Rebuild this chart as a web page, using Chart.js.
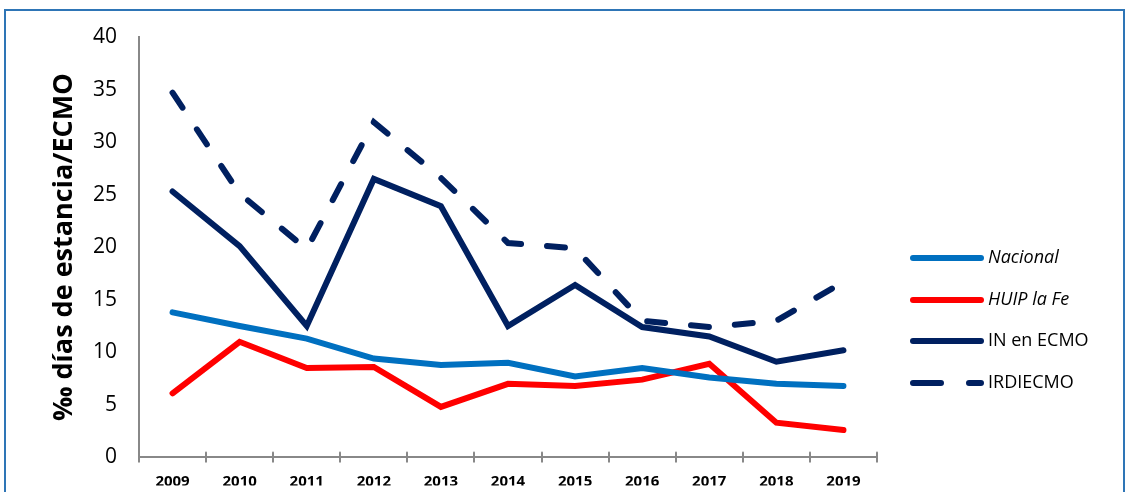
<!DOCTYPE html>
<html>
<head>
<meta charset="utf-8">
<script src="https://cdn.jsdelivr.net/npm/chart.js@4"></script>
<style>
  html, body { margin: 0; padding: 0; background: #fff; }
  #wrap { width: 1129px; height: 492px; position: relative; }
</style>
</head>
<body>
<div id="wrap"><canvas id="ecmoChart" width="1129" height="492"></canvas></div>
<script>
const years = ['2009', '2010', '2011', '2012', '2013', '2014', '2015', '2016', '2017', '2018', '2019'];
const nacional = [13.8, 12.5, 11.3, 9.4, 8.8, 9.0, 7.7, 8.5, 7.6, 7.0, 6.8];
const huipLaFe = [6.1, 11.0, 8.5, 8.6, 4.8, 7.0, 6.8, 7.4, 8.9, 3.3, 2.6];
const inEcmo = [25.3, 20.1, 12.5, 26.5, 23.9, 12.5, 16.4, 12.4, 11.5, 9.1, 10.2];
const irdiecmo = [34.7, 25.1, 19.8, 31.9, 26.6, 20.4, 19.9, 13.0, 12.4, 13.0, 16.7];

const FONT = '"Open Sans", "Noto Sans", sans-serif';

// legend drawn by hand on the right, plus the outer blue frame
const sideLegend = {
    id: 'sideLegend',
    afterDraw(chart) {
        const ctx = chart.ctx;
        ctx.save();
        ctx.strokeStyle = '#2E75B6';
        ctx.lineWidth = 2;
        ctx.strokeRect(5, 10, 1119, 490);

        const rows = [258, 300, 341, 383];
        chart.data.datasets.forEach((ds, i) => {
            const y = rows[i];
            ctx.beginPath();
            ctx.strokeStyle = ds.borderColor;
            ctx.lineWidth = 6;
            ctx.lineCap = 'round';
            ctx.setLineDash(ds.borderDash && ds.borderDash.length ? [28, 28] : []);
            ctx.moveTo(913, y);
            ctx.lineTo(981, y);
            ctx.stroke();
            ctx.setLineDash([]);
            ctx.fillStyle = '#000';
            ctx.font = (ds.italic ? 'italic ' : '') + '18px ' + FONT;
            ctx.textBaseline = 'middle';
            ctx.textAlign = 'left';
            ctx.fillText(ds.label, 988, y);
        });

        // small cross ticks above the x axis
        const xs = chart.scales.x;
        const bottom = chart.chartArea.bottom;
        ctx.strokeStyle = '#888';
        ctx.lineWidth = 2;
        for (let i = 1; i <= years.length; i++) {
            const x = Math.round(xs.left + (xs.width / years.length) * i);
            ctx.beginPath();
            ctx.moveTo(x, bottom - 5);
            ctx.lineTo(x, bottom);
            ctx.stroke();
        }
        ctx.restore();
    }
};

const line = (label, data, color, extra) => Object.assign({
    label: label,
    data: data,
    borderColor: color,
    backgroundColor: color,
    borderWidth: 6,
    pointRadius: 0,
    tension: 0,
    borderCapStyle: 'round',
    borderJoinStyle: 'miter',
    fill: false,
}, extra || {});

new Chart(document.getElementById('ecmoChart'), {
    type: 'line',
    data: {
        labels: years,
        datasets: [
            line('Nacional', nacional, '#0070C0', { italic: true }),
            line('HUIP la Fe', huipLaFe, '#FF0000', { italic: true }),
            line('IN en ECMO', inEcmo, '#002060'),
            line('IRDIECMO', irdiecmo, '#002060', { borderDash: [18, 26] }),
        ],
    },
    plugins: [sideLegend],
    options: {
        responsive: false,
        animation: false,
        layout: { padding: { top: 37, right: 252, left: 48, bottom: 0 } },
        plugins: {
            legend: { display: false },
            tooltip: { enabled: false },
        },
        scales: {
            x: {
                offset: true,
                grid: {
                    offset: true,
                    drawOnChartArea: false,
                    color: '#888',
                    lineWidth: 2,
                    tickLength: 5,
                },
                border: { color: '#888', width: 2 },
                ticks: {
                    color: '#000',
                    font: { family: FONT, size: 15, weight: 'bold' },
                    padding: 10,
                    maxRotation: 0,
                },
                afterFit(scale) { scale.height = 28; },
            },
            y: {
                min: 0,
                max: 40,
                grid: { display: false, drawTicks: false },
                border: { color: '#888', width: 2 },
                ticks: {
                    stepSize: 5,
                    color: '#000',
                    font: { family: FONT, size: 21 },
                    padding: 22,
                },
                title: {
                    display: true,
                    text: '‰ días de estancia/ECMO',
                    color: '#000',
                    font: { family: FONT, size: 27, weight: 'bold' },
                    padding: 0,
                },
                afterFit(scale) { scale.width = 91; },
            },
        },
    },
});
</script>
</body>
</html>
